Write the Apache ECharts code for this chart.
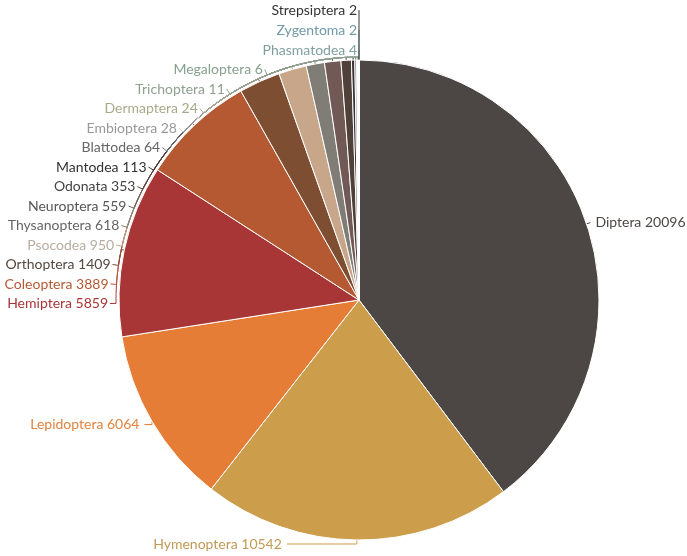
<!DOCTYPE html>
<html><head><meta charset="utf-8">
<script src="https://cdn.jsdelivr.net/npm/echarts@6/dist/echarts.min.js"></script>
<style>html,body{margin:0;padding:0;background:#fff}#c{width:687px;height:556px}</style>
</head><body><div id="c"></div>
<script>
const names = ["Diptera","Hymenoptera","Lepidoptera","Hemiptera","Coleoptera","Orthoptera","Psocodea","Thysanoptera","Neuroptera","Odonata","Mantodea","Blattodea","Embioptera","Dermaptera","Trichoptera","Megaloptera","Phasmatodea","Zygentoma","Strepsiptera"];
const values = [20096,10542,6064,5859,3889,1409,950,618,559,353,113,64,28,24,11,6,4,2,2];
const sliceColors = ["#4c4744","#cc9d4b","#e57d36","#a93636","#b55933","#7e4e32","#c8a68a","#807c76","#715a55","#50403a","#3b3033","#6a7585","#d8d8d8","#a9a98a","#8fa08f","#86a08e","#7fa0a0","#6f9aa5","#333333"];
const labelColors = ["#4c4744","#c29a55","#e08440","#a93636","#b55933","#544840","#b8aca2","#666666","#555555","#444444","#333333","#666666","#999999","#a9a98a","#8fa08f","#86a08e","#7fa0a0","#6f9aa5","#333333"];
// per-slice label line lengths (style only)
const lineLen = [4,4,6,4,4,4,4,4,4,4,4,4,4,4,4,4,10,30,50];
const lineLen2 = [0,70,8,5,5,5,5,5,5,5,5,5,5,5,5,5,5,5,5];
const CX = 359, CY = 300, R = 240, LABEL_R = 249, ARC_R = 243;
const data = names.map((n,i)=>({name:n,value:values[i],itemStyle:{color:sliceColors[i]},label:{color:labelColors[i]},labelLine:{length:lineLen[i],length2:lineLen2[i],lineStyle:{color:sliceColors[i]}}}));

function ang(x, y){ // clockwise from top, in [0, 2pi)
  let a = Math.atan2(x - CX, CY - y);
  if (a < 0) a += Math.PI*2;
  return a;
}
function pt(a, rad){ return [CX + rad*Math.sin(a), CY - rad*Math.cos(a)]; }

const chart = echarts.init(document.getElementById('c'));
chart.setOption({
  animation:false,
  series:[{
    type:'pie',
    center:[CX,CY],
    radius:[0,R],
    startAngle:90,
    clockwise:true,
    data:data,
    itemStyle:{borderColor:'#fff',borderWidth:1},
    label:{formatter:'{b} {c}',fontFamily:'Lato',fontSize:14,lineHeight:17.5,overflow:'none'},
    labelLine:{smooth:false},
    labelLayout:function(p){
      if (p.dataIndex < 3) return {};
      const r = p.labelRect;
      const yc = r.y + r.height/2;
      const dy = CY - yc;
      const xEnd = CX - Math.sqrt(Math.max(0, LABEL_R*LABEL_R - dy*dy)) - 2;
      const out = {x:xEnd, y:yc, align:'right', verticalAlign:'middle'};
      const a0 = (p.dataIndex === 18) ? Math.PI*2 - 0.0005 : null;
      const pts = p.labelLinePoints;
      if (pts && pts.length >= 1) {
        const start = pts[0];
        const as = ang(start[0], start[1]);
        const endP = [xEnd + 2, yc];
        let a1 = ang(endP[0], endP[1]);
        if (a1 < Math.PI) a1 = Math.PI*2 - 0.0001;
        const line = [endP];
        const n = Math.max(1, Math.ceil(Math.abs(as - a1) / 0.02));
        for (let k = 0; k <= n; k++) {
          line.push(pt(a1 + (as - a1) * k / n, ARC_R));
        }
        line.push(start);
        out.labelLinePoints = line;
      }
      return out;
    }
  }]
});
</script></body></html>
